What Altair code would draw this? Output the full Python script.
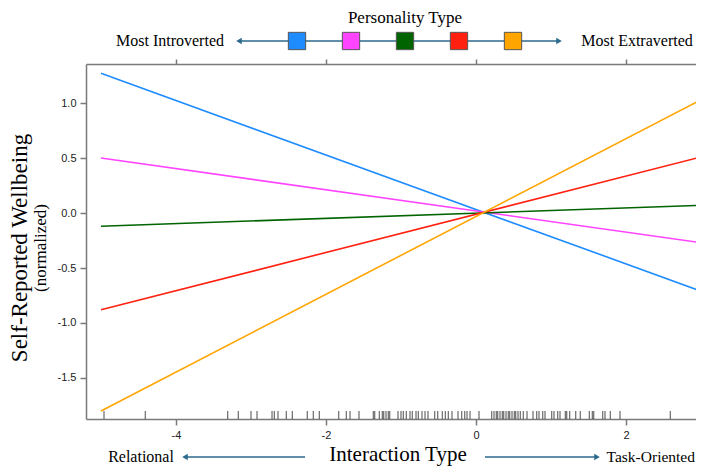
import altair as alt
import pandas as pd

# ---- data ----
types = ["Type 1", "Type 2", "Type 3", "Type 4", "Type 5"]
colors = ["#1e8cff", "#ff44ff", "#006400", "#ff2010", "#ffa500"]
x_start = [-5.0, -5.0, -5.0, -5.0, -5.0]
x_end = [3.0, 3.0, 3.0, 3.0, 3.0]
y_start = [1.27, 0.50, -0.12, -0.88, -1.80]
y_end = [-0.71, -0.27, 0.07, 0.51, 1.03]

rug_x = [-4.96, -4.41, -3.31, -3.17, -3.00, -2.92, -2.72, -2.69, -2.64, -2.53,
         -2.45, -2.25, -2.17, -2.09, -1.83, -1.73, -1.68, -1.56, -1.37, -1.35,
         -1.29, -1.25, -1.23, -1.20, -1.17, -1.15, -1.04, -1.00, -0.97, -0.93,
         -0.88, -0.85, -0.80, -0.77, -0.72, -0.68, -0.64, -0.55, -0.51, -0.45,
         -0.41, -0.37, -0.32, -0.24, -0.19, -0.15, -0.12, -0.08, 0.04, 0.21,
         0.24, 0.27, 0.29, 0.32, 0.35, 0.37, 0.40, 0.43, 0.45, 0.48, 0.51,
         0.53, 0.56, 0.59, 0.63, 0.68, 0.76, 0.81, 0.84, 0.89, 0.92, 1.01,
         1.04, 1.09, 1.12, 1.19, 1.21, 1.25, 1.33, 1.39, 1.51, 1.55, 1.57,
         1.69, 1.72, 1.79, 1.92, 2.59]

x_ticks = [-4, -2, 0, 2]
y_ticks = [-1.5, -1.0, -0.5, 0.0, 0.5, 1.0]

lines_df = pd.DataFrame({
    "type": types * 2,
    "x": x_start + x_end,
    "y": y_start + y_end,
})
rug_df = pd.DataFrame({"x": rug_x})

W, H = 610, 355
XDOM = [-5.2, -5.2 + W / 75.0]
YDOM = [-1.873, 1.355]
SERIF = "Liberation Serif"
SANS = "Liberation Sans"
ARROW = "#2b6a8c"
AXC = "#7a7a7a"

xscale = alt.Scale(domain=XDOM, nice=False, zero=False)
yscale = alt.Scale(domain=YDOM, nice=False, zero=False)

neg_fmt0 = "(datum.value < 0 ? '-' : '') + format(abs(datum.value), 'd')"
neg_fmt1 = "(datum.value < 0 ? '-' : '') + format(abs(datum.value), '.1f')"

lines = alt.Chart(lines_df).mark_line(strokeWidth=1.6, clip=True).encode(
    x=alt.X("x:Q", scale=xscale, axis=alt.Axis(
        orient="bottom", values=x_ticks, title=None, grid=False,
        labelExpr=neg_fmt0, labelFont=SANS, labelFontSize=11, labelColor="#222",
        tickSize=6, tickColor=AXC, domainColor=AXC, labelPadding=4)),
    y=alt.Y("y:Q", scale=yscale, axis=alt.Axis(
        orient="left", values=y_ticks, title=None, grid=False,
        labelExpr=neg_fmt1, labelFont=SANS, labelFontSize=11, labelColor="#222",
        tickSize=6, tickColor=AXC, domainColor=AXC, labelPadding=4)),
    color=alt.Color("type:N", scale=alt.Scale(domain=types, range=colors), legend=None),
    detail="type:N",
)

top_axis = alt.Chart(rug_df).mark_rule(opacity=0).encode(
    x=alt.X("x:Q", scale=xscale, axis=alt.Axis(
        orient="top", values=x_ticks, labels=False, title=None, grid=False,
        tickSize=5, tickColor=AXC, domainColor=AXC)),
)

rug = alt.Chart(rug_df).mark_rule(color="black", opacity=0.7, strokeWidth=1).encode(
    x=alt.X("x:Q", scale=xscale, axis=None),
    y=alt.value(H - 8),
    y2=alt.value(H),
)

layers = [lines, rug, top_axis]


def txt(s, x, y, size, angle=0, align="center"):
    return alt.Chart(pd.DataFrame({"t": [s]})).mark_text(
        font=SERIF, fontSize=size, color="black", align=align, baseline="middle",
        angle=angle,
    ).encode(text="t:N", x=alt.value(x), y=alt.value(y))


def rule(x1, x2, y):
    return alt.Chart(pd.DataFrame({"a": [0]})).mark_rule(
        color=ARROW, strokeWidth=1.6).encode(
        x=alt.value(x1), x2=alt.value(x2), y=alt.value(y))


def head(x, y, shape):
    return alt.Chart(pd.DataFrame({"a": [0]})).mark_point(
        shape=shape, filled=True, color=ARROW, size=40, opacity=1).encode(
        x=alt.value(x), y=alt.value(y))


# titles
BY = 393
layers.append(txt("Self-Reported Wellbeing", -66, 184, 23, angle=270))
layers.append(txt("(normalized)", -45, 184, 17, angle=270))
layers.append(txt("Interaction Type", 312, 391, 21))
layers.append(txt("Relational", 55, BY, 16))
layers.append(txt("Task-Oriented", 609, BY, 15.5, align="right"))
layers += [rule(219, 101, BY), head(99, BY, "triangle-left"),
           rule(399, 509, BY), head(511, BY, "triangle-right")]

# legend
LY = -23
layers.append(txt("Personality Type", 319, -46, 17))
layers.append(txt("Most Introverted", 84, LY, 16))
layers.append(txt("Most Extraverted", 551, LY, 16))
layers += [rule(155, 471, LY), head(153, LY, "triangle-left"), head(473, LY, "triangle-right")]
for i, c in enumerate(colors):
    layers.append(alt.Chart(pd.DataFrame({"a": [0]})).mark_square(
        size=300, color=c, opacity=1, stroke="#555555", strokeWidth=1).encode(
        x=alt.value(211 + 54 * i), y=alt.value(LY)))

chart = alt.layer(*layers).resolve_axis(x="independent").properties(
    width=W, height=H,
    autosize=alt.AutoSizeParams(type="none"),
    padding={"left": 78, "top": 56, "right": 0, "bottom": 48},
).configure_view(stroke=None).configure_axis(domainWidth=1.5, tickWidth=1.5)

chart.save("out.html", embed_options={"renderer": "svg", "actions": False})
